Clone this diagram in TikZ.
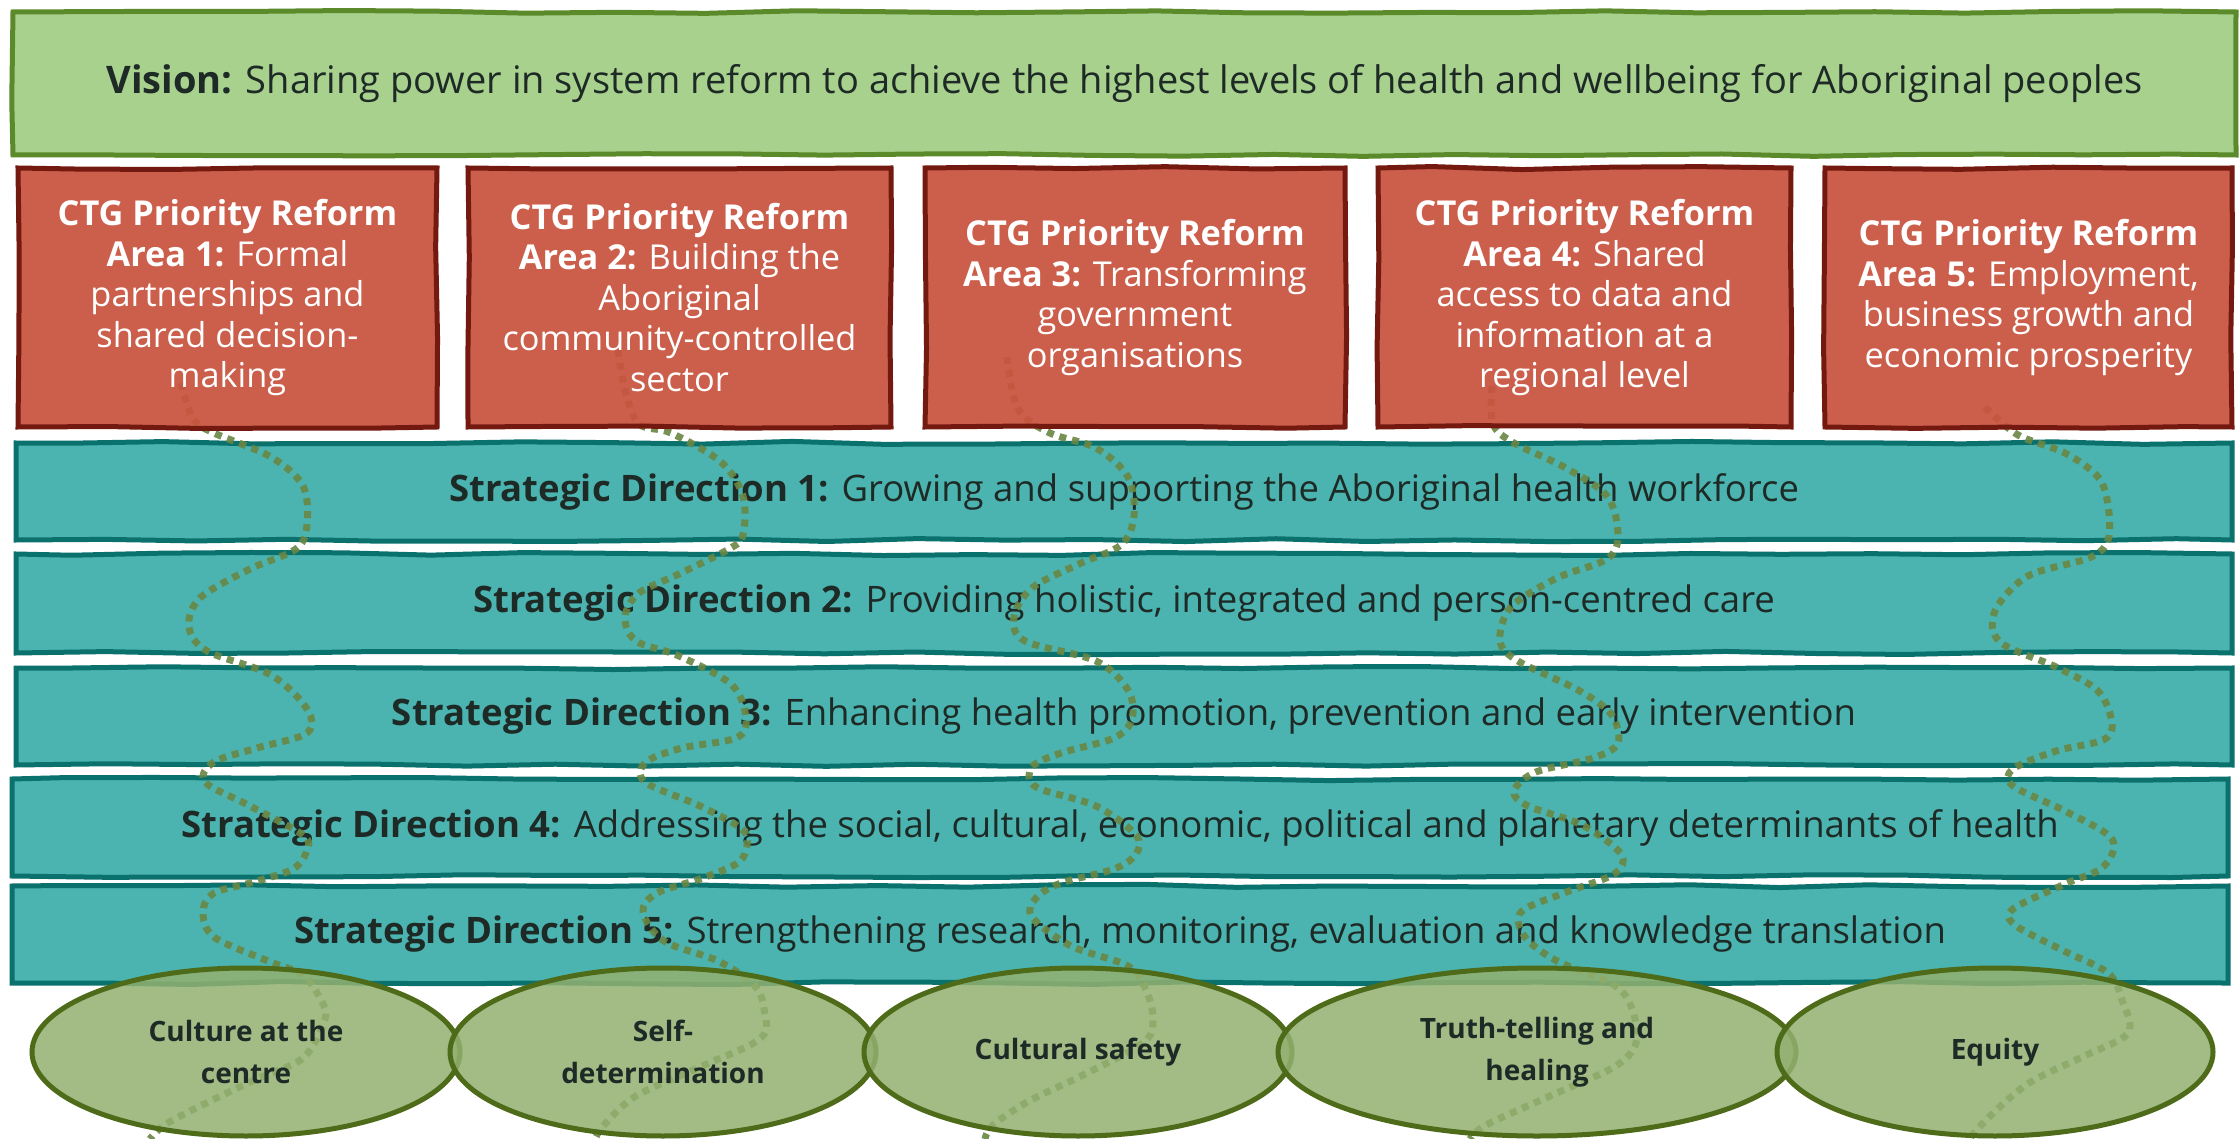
\documentclass[tikz,border=0pt]{standalone}
\usepackage{fontspec}
\setmainfont{Open Sans}
\usetikzlibrary{shapes.geometric,decorations.pathmorphing}
\definecolor{visfill}{HTML}{A9D18E}
\definecolor{visdraw}{HTML}{5A8A2A}
\definecolor{redfill}{HTML}{C9533F}
\definecolor{reddraw}{HTML}{74190F}
\definecolor{tealfill}{HTML}{4BB4B0}
\definecolor{tealdraw}{HTML}{0B716C}
\definecolor{ovfill}{HTML}{93B070}
\definecolor{ovdraw}{HTML}{4D6B18}
\definecolor{dotcol}{HTML}{6A8744}
\definecolor{txtdark}{HTML}{1E2A26}
\newcommand\myfs[2]{\fontsize{#1}{#2}\selectfont}
\begin{document}
\begin{tikzpicture}[x=1pt,y=-1pt,
  wob/.style={postaction={draw=#1, line width=5pt, decorate, decoration={random steps, segment length=90pt, amplitude=1.6pt}}},
  visbox/.style={wob=visdraw, fill=visfill, inner sep=0pt, minimum width=2223pt, minimum height=143pt, text=txtdark, font=\myfs{38}{46}},
  redbox/.style={wob=reddraw, fill=redfill, fill opacity=0.93, text opacity=1, inner sep=0pt, minimum height=259pt, align=center, text=white, font=\myfs{34.3}{40.5}},
  tealbox/.style={wob=tealdraw, fill=tealfill, inner sep=0pt, minimum width=2216pt, text=txtdark, font=\myfs{36.5}{44}},
  oval/.style={ellipse, draw=ovdraw, line width=5pt, fill=ovfill, fill opacity=0.85, text opacity=1, inner sep=0pt, minimum height=168pt, align=center, text=txtdark, font=\myfs{28}{42}\bfseries},
  dotline/.style={draw=dotcol, line width=7pt, dash pattern=on 7pt off 6pt, draw opacity=0.9}
]
\pgfmathsetseed{11}
\fill[white] (0,0) rectangle (2239,1139);
\useasboundingbox (0,0) rectangle (2239,1139);

% Vision
\node[visbox] (vision) at (1124.5,83.5) {\textbf{Vision:} Sharing power in system reform to achieve the highest levels of health and wellbeing for Aboriginal peoples};

% Strategic directions
\node[tealbox, minimum height=97pt] (sd1) at (1124,491.5) {\textbf{Strategic Direction 1:} Growing and supporting the Aboriginal health workforce};
\node[tealbox, minimum height=99pt] (sd2) at (1124,603.5) {\textbf{Strategic Direction 2:} Providing holistic, integrated and person-centred care};
\node[tealbox, minimum height=97pt] (sd3) at (1124,716.5) {\textbf{Strategic Direction 3:} Enhancing health promotion, prevention and early intervention};
\node[tealbox, minimum height=97pt] (sd4) at (1120,827.5) {\textbf{Strategic Direction 4:} Addressing the social, cultural, economic, political and planetary determinants of health};
\node[tealbox, minimum height=97pt] (sd5) at (1120,934.5) {\textbf{Strategic Direction 5:} Strengthening research, monitoring, evaluation and knowledge translation};

% dotted wavy lines
\draw[dotline] plot[smooth, tension=0.55] coordinates {(181,383) (193,419) (214,433) (271,457) (303,486) (307,525) (296,549) (250,569) (200,598) (189,627) (207,651) (271,675) (307,709) (307,733) (257,748) (214,762) (205,782) (250,806) (303,835) (307,850) (293,869) (250,883) (214,893) (203,912) (214,937) (268,961) (303,975) (321,1000) (325,1019) (303,1058) (250,1082) (171,1121) (150,1139)};
\draw[dotline] plot[smooth, tension=0.55] coordinates {(618,350) (625,390) (639,424) (671,433) (721,462) (743,496) (743,535) (729,549) (679,574) (639,593) (625,617) (636,641) (679,656) (732,685) (746,719) (736,738) (682,748) (646,762) (645,782) (700,806) (743,830) (746,850) (736,864) (700,879) (657,893) (643,912) (664,941) (718,961) (754,985) (764,1009) (761,1038) (700,1067) (636,1096) (604,1125) (595,1139)};
\draw[dotline] plot[smooth, tension=0.55] coordinates {(1007,357) (1018,409) (1050,433) (1096,448) (1128,477) (1134,516) (1121,545) (1079,564) (1032,588) (1014,617) (1025,641) (1096,661) (1128,690) (1132,719) (1114,738) (1061,753) (1032,767) (1036,787) (1096,806) (1136,835) (1136,854) (1114,869) (1061,883) (1036,898) (1032,917) (1071,946) (1128,966) (1146,990) (1153,1019) (1143,1043) (1079,1077) (1029,1101) (993,1125) (985,1139)};
\draw[dotline] plot[smooth, tension=0.55] coordinates {(1492,386) (1493,424) (1514,443) (1564,467) (1607,496) (1618,535) (1607,559) (1557,578) (1511,607) (1500,641) (1518,661) (1578,690) (1611,714) (1618,743) (1593,758) (1536,772) (1514,791) (1528,806) (1582,825) (1621,854) (1614,874) (1564,893) (1521,912) (1525,937) (1557,961) (1614,985) (1632,1009) (1636,1043) (1614,1067) (1550,1096) (1486,1125) (1470,1139)};
\draw[dotline] plot[smooth, tension=0.55] coordinates {(1985,407) (2018,435) (2065,453) (2098,477) (2108,505) (2108,540) (2089,558) (2028,576) (1995,611) (2000,642) (2056,667) (2098,691) (2112,723) (2103,740) (2056,751) (2013,769) (2013,786) (2065,811) (2112,839) (2103,867) (2065,884) (2013,909) (2015,925) (2062,950) (2108,973) (2122,1000) (2128,1033) (2082,1057) (2029,1083) (1989,1117) (1969,1139)};

% Priority reform boxes
\node[redbox, minimum width=419pt] (pr1) at (227.5,297.5) {\textbf{CTG Priority Reform}\\\textbf{Area 1:} Formal\\partnerships and\\shared decision-\\making};
\node[redbox, minimum width=423pt] (pr2) at (679.5,297.5) {\textbf{CTG Priority Reform}\\\textbf{Area 2:} Building the\\Aboriginal\\community-controlled\\sector};
\node[redbox, minimum width=420pt] (pr3) at (1135,297.5) {\textbf{CTG Priority Reform}\\\textbf{Area 3:} Transforming\\government\\organisations};
\node[redbox, minimum width=413pt] (pr4) at (1584.5,297.5) {\textbf{CTG Priority Reform}\\\textbf{Area 4:} Shared\\access to data and\\information at a\\regional level};
\node[redbox, minimum width=407pt] (pr5) at (2028.5,297.5) {\textbf{CTG Priority Reform}\\\textbf{Area 5:} Employment,\\business growth and\\economic prosperity};

% Principles
\node[oval, minimum width=428pt] (p1) at (246,1052) {Culture at the\\centre};
\node[oval, minimum width=426pt] (p2) at (663,1052) {Self-\\determination};
\node[oval, minimum width=428pt] (p3) at (1078,1052) {Cultural safety};
\node[oval, minimum width=518pt] (p4) at (1537,1052) {Truth-telling and\\healing};
\node[oval, minimum width=436pt] (p5) at (1995,1052) {Equity};
\end{tikzpicture}
\end{document}
